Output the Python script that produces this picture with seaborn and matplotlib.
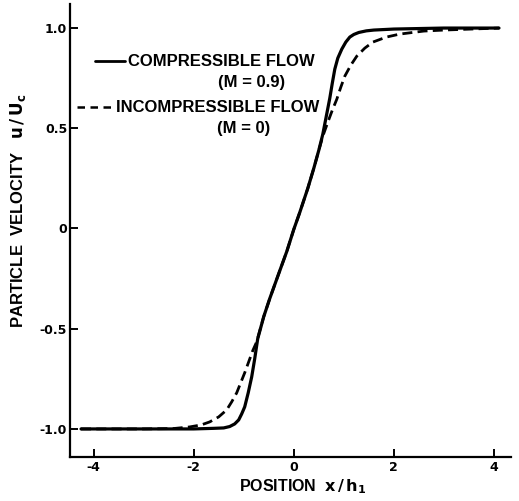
import matplotlib
matplotlib.use("Agg")
import matplotlib.pyplot as plt
from matplotlib.lines import Line2D
import seaborn as sns
import pandas as pd

# ---- data ----
comp_x = [-4.25, -3.0, -2.0, -1.6, -1.4, -1.28, -1.18, -1.1, -1.04, -0.98, -0.91, -0.84,
          -0.78, -0.72, -0.6, -0.48, -0.3, -0.14, 0.0, 0.12, 0.28, 0.4, 0.5, 0.58, 0.65,
          0.72, 0.77, 0.82, 0.88, 0.96, 1.04, 1.12, 1.2, 1.3, 1.45, 1.6, 2.0, 3.0, 4.1]
comp_y = [-1.0, -1.0, -1.0, -0.997, -0.995, -0.988, -0.975, -0.955, -0.925, -0.89, -0.82,
          -0.74, -0.65, -0.55, -0.44, -0.35, -0.225, -0.115, -0.005, 0.08, 0.2, 0.3, 0.39,
          0.47, 0.56, 0.65, 0.725, 0.795, 0.85, 0.895, 0.93, 0.955, 0.968, 0.978, 0.986,
          0.99, 0.995, 1.0, 1.0]

incomp_x = [-4.25, -3.0, -2.4, -2.08, -1.85, -1.68, -1.5, -1.34, -1.24, -1.14, -1.06,
            -0.98, -0.9, -0.82, -0.74, -0.6, -0.48, -0.3, -0.14, 0.0, 0.12, 0.28, 0.4,
            0.5, 0.58, 0.68, 0.77, 0.86, 0.94, 1.02, 1.14, 1.26, 1.42, 1.58, 1.85, 2.12,
            2.6, 3.0, 4.1]
incomp_y = [-1.0, -1.0, -0.998, -0.99, -0.98, -0.965, -0.94, -0.905, -0.865, -0.82, -0.77,
            -0.72, -0.665, -0.61, -0.565, -0.44, -0.35, -0.225, -0.115, -0.005, 0.08, 0.2,
            0.3, 0.39, 0.46, 0.53, 0.59, 0.645, 0.705, 0.76, 0.815, 0.86, 0.9, 0.93,
            0.955, 0.97, 0.985, 0.99, 1.0]

x_ticks = [-4, -2, 0, 2, 4]
y_ticks = [-1.0, -0.5, 0, 0.5, 1.0]
y_tick_labels = ["-1.0", "-0.5", "0", "0.5", "1.0"]
series_names = ["COMPRESSIBLE FLOW", "INCOMPRESSIBLE FLOW"]
series_notes = ["(M = 0.9)", "(M = 0)"]

sns.set_style("ticks")
plt.rcParams["font.family"] = ["Liberation Sans", "DejaVu Sans"]
plt.rcParams["axes.unicode_minus"] = False
plt.rcParams["mathtext.fontset"] = "dejavusans"
plt.rcParams["text.color"] = "black"
plt.rcParams["axes.labelcolor"] = "black"
plt.rcParams["xtick.color"] = "black"
plt.rcParams["ytick.color"] = "black"

W, H = 519, 501
fig = plt.figure(figsize=(W / 100, H / 100), dpi=100)
ax = fig.add_axes([70 / W, 1 - 457 / H, (511 - 70) / W, (457 - 4) / H])

df_c = pd.DataFrame({"x": comp_x, "y": comp_y})
df_i = pd.DataFrame({"x": incomp_x, "y": incomp_y})
sns.lineplot(data=df_c, x="x", y="y", ax=ax, color="black", lw=2.3, sort=False,
             estimator=None)
sns.lineplot(data=df_i, x="x", y="y", ax=ax, color="black", lw=2.0, sort=False,
             estimator=None, linestyle=(0, (3.6, 1.9)))

ax.set_xlim(-4.47, 4.34)
ax.set_ylim(-1.14, 1.12)
ax.set_xticks(x_ticks)
ax.set_xticklabels([str(t) for t in x_ticks])
ax.set_yticks(y_ticks)
ax.set_yticklabels(y_tick_labels)
for lab in ax.get_xticklabels() + ax.get_yticklabels():
    lab.set_fontfamily("DejaVu Sans")
    lab.set_fontweight("bold")
    lab.set_fontsize(9)
    lab.set_color("black")
ax.tick_params(direction="in", length=6, width=1.4, colors="black", pad=3)
ax.tick_params(axis="y", pad=2)
sns.despine(ax=ax)
for s in ["left", "bottom"]:
    ax.spines[s].set_linewidth(1.6)
    ax.spines[s].set_color("black")

ax.set_xlabel("POSITION  $\\mathbf{x\\,/\\,h_1}$", fontsize=11.5, fontweight="bold",
              color="black")
ax.set_ylabel("PARTICLE  VELOCITY   $\\mathbf{u\\,/\\,U_c}$", fontsize=12,
              fontweight="bold", color="black")
ax.xaxis.set_label_coords(303 / W, 1 - 487 / H, transform=fig.transFigure)
ax.yaxis.set_label_coords(18 / W, 1 - 211 / H, transform=fig.transFigure)
ax.xaxis.label.set_va("center")
ax.yaxis.label.set_va("center")

# legend, drawn as text with line samples
fig.add_artist(Line2D([95 / W, 125 / W], [1 - 61 / H] * 2, color="black", lw=2.0,
                      transform=fig.transFigure))
fig.add_artist(Line2D([77 / W, 113 / W], [1 - 107 / H] * 2, color="black", lw=1.8,
                      linestyle=(0, (3.0, 2.2)), transform=fig.transFigure))
fig.text(128 / W, 1 - 61 / H, series_names[0], fontsize=12, fontweight="bold",
         va="center", ha="left", color="black")
fig.text(218 / W, 1 - 83 / H, series_notes[0], fontsize=12, fontweight="bold",
         va="center", ha="left", color="black")
fig.text(116 / W, 1 - 107 / H, series_names[1], fontsize=12, fontweight="bold",
         va="center", ha="left", color="black")
fig.text(217 / W, 1 - 128 / H, series_notes[1], fontsize=12, fontweight="bold",
         va="center", ha="left", color="black")

fig.savefig("out.png", dpi=100)
